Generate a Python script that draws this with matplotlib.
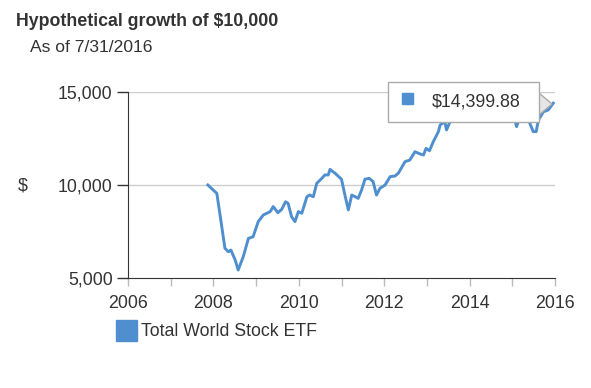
import matplotlib
matplotlib.use("Agg")
import matplotlib.pyplot as plt
from matplotlib.patches import Rectangle, Polygon

plt.rcParams["font.family"] = ["Liberation Sans", "DejaVu Sans"]

# growth of $10,000 (decimal year, value)
years = [2007.87, 2008.08, 2008.15, 2008.27, 2008.35, 2008.41, 2008.51, 2008.58,
         2008.70, 2008.82, 2008.93, 2009.05, 2009.17, 2009.25, 2009.33, 2009.40,
         2009.51, 2009.60, 2009.69, 2009.75, 2009.83, 2009.91, 2009.99, 2010.07,
         2010.19, 2010.26, 2010.34, 2010.42, 2010.54, 2010.61, 2010.69, 2010.73,
         2010.85, 2011.00, 2011.08, 2011.16, 2011.24, 2011.32, 2011.39, 2011.47,
         2011.55, 2011.65, 2011.74, 2011.82, 2011.90, 2012.02, 2012.14, 2012.25,
         2012.33, 2012.49, 2012.60, 2012.72, 2012.84, 2012.92, 2012.98, 2013.06,
         2013.15, 2013.27, 2013.31, 2013.42, 2013.46, 2013.54, 2013.65, 2013.80,
         2013.95, 2014.10, 2014.25, 2014.40, 2014.55, 2014.70, 2014.85, 2014.95,
         2015.06, 2015.10, 2015.14, 2015.22, 2015.30, 2015.41, 2015.49, 2015.56,
         2015.61, 2015.73, 2015.84, 2015.96]
values = [10000, 9550, 8480, 6600, 6410, 6500, 5970, 5430,
          6150, 7130, 7220, 8030, 8390, 8480, 8570, 8840,
          8510, 8690, 9100, 9010, 8300, 8030, 8570, 8480,
          9370, 9460, 9370, 10090, 10360, 10540, 10540, 10840,
          10630, 10310, 9460, 8660, 9460, 9370, 9280, 9730,
          10310, 10360, 10180, 9460, 9820, 10000, 10450, 10480,
          10630, 11260, 11340, 11790, 11670, 11610, 11970, 11840,
          12330, 12870, 13230, 13400, 12960, 13400, 13700, 13900,
          14100, 13700, 14100, 14400, 14600, 14200, 14100, 13900,
          13490, 13140, 13400, 13800, 14000, 13320, 12870, 12870,
          13490, 13940, 14030, 14399.88]

series_name = "Total World Stock ETF"
last_label = "$14,399.88"
yticks = [5000, 10000, 15000]
ytick_labels = ["5,000", "10,000", "15,000"]
xticks = [2006, 2008, 2010, 2012, 2014, 2016]

blue = "#4f8fcf"
W, H = 591, 388

fig = plt.figure(figsize=(W / 100, H / 100), dpi=100)
ax = fig.add_axes([128 / W, 1 - 278 / H, (555 - 128) / W, (278 - 92) / H])

ax.plot(years, values, color=blue, lw=2.1, solid_joinstyle="round", zorder=3)

ax.set_xlim(2006, 2016)
ax.set_ylim(5000, 15000)
ax.set_yticks(yticks)
ax.set_yticklabels(ytick_labels)
ax.set_xticks(xticks)
ax.set_xticks(range(2006, 2017), minor=True)
for y in yticks[1:]:
    ax.axhline(y, color="#cccccc", lw=1, zorder=1)

for s in ["top", "right"]:
    ax.spines[s].set_visible(False)
ax.spines["left"].set_color("#333333")
ax.spines["bottom"].set_color("#333333")
ax.tick_params(axis="y", length=8, width=1, color="#333333", labelsize=12.8,
               labelcolor="#333333", pad=3)
ax.tick_params(axis="x", which="both", length=6, width=1, color="#bbbbbb",
               labelsize=12.8, labelcolor="#333333", pad=6)
ax.tick_params(axis="x", which="minor", labelbottom=False)

fig.text(16 / W, 1 - 22 / H, "Hypothetical growth of $10,000", fontsize=12.8,
         fontweight="bold", color="#333333", va="center", ha="left")
fig.text(30 / W, 1 - 47 / H, "As of 7/31/2016", fontsize=12.6, color="#333333",
         va="center", ha="left")
fig.text(18 / W, 1 - 186 / H, "$", fontsize=12.8, color="#333333",
         va="center", ha="left")

# legend
fig.patches.append(Rectangle((116 / W, 1 - 341 / H), 21 / W, 21 / H,
                             transform=fig.transFigure, color=blue))
fig.text(141 / W, 1 - 331 / H, series_name, fontsize=12.8, color="#333333",
         va="center", ha="left")

# tooltip box
fig.patches.append(Polygon([(539 / W, 1 - 93 / H), (552 / W, 1 - 104 / H),
                            (539 / W, 1 - 115 / H)], closed=True,
                           transform=fig.transFigure, facecolor="#e6e6e6",
                           edgecolor="#aaaaaa", lw=1, zorder=5))
fig.patches.append(Rectangle((388 / W, 1 - 122 / H), 151 / W, 40 / H,
                             transform=fig.transFigure, facecolor="white",
                             edgecolor="#aaaaaa", lw=1, zorder=6))
fig.patches.append(Rectangle((402 / W, 1 - 104 / H), 11 / W, 11 / H,
                             transform=fig.transFigure, color=blue, zorder=7))
fig.text(432 / W, 1 - 102 / H, last_label, fontsize=12.8, color="#333333",
         va="center", ha="left", zorder=8)

fig.savefig("out.png", dpi=100)
